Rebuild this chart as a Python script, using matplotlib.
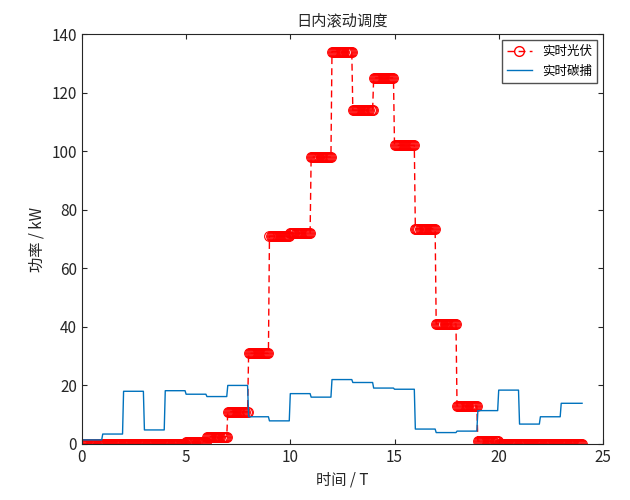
import numpy as np
import matplotlib

matplotlib.use("Agg")
import matplotlib.pyplot as plt

plt.rcParams["font.family"] = ["Noto Sans CJK SC", "DejaVu Sans"]

# hourly values (kW), hours 0..23
pv_hourly = [0, 0, 0, 0, 0, 0.8, 2.5, 11, 31, 71, 72, 98, 134, 114,
             125, 102, 73.5, 41, 13, 1, 0, 0, 0, 0]
cc_hourly = [1.4, 3.4, 18, 4.8, 18.2, 17, 16.2, 20, 9.3, 7.9, 17.2, 16,
             22, 21, 19.1, 18.7, 5.1, 3.9, 4.4, 11.4, 18.4, 6.8, 9.3, 13.9]
steps_per_hour = 20

t = np.arange(len(pv_hourly) * steps_per_hour + 1) / steps_per_hour
pv = np.append(np.repeat(pv_hourly, steps_per_hour), pv_hourly[-1])
cc = np.append(np.repeat(cc_hourly, steps_per_hour), cc_hourly[-1])

grey = "#262626"
fig = plt.figure(figsize=(6.3, 5), dpi=100)
ax = fig.add_axes([0.13, 0.112, 0.827, 0.82])
ax.plot(t, pv, "o", color="red", markersize=7, markerfacecolor="none",
        markeredgewidth=0.8)
ax.plot(t, pv, color="red", lw=1, dashes=(5, 3))
ax.plot([], [], color="red", lw=1, dashes=(5, 3), marker="o", markersize=7,
        markerfacecolor="none", label="实时光伏")
ax.plot(t, cc, "-", color="#0072BD", lw=1, label="实时碳捕")
ax.set_xlim(0, 25)
ax.set_ylim(0, 140)
ax.set_xticks(range(0, 26, 5))
ax.set_yticks(range(0, 141, 20))
ax.tick_params(direction="in", labelsize=11, top=True, right=True,
               colors=grey)
for s in ax.spines.values():
    s.set_color(grey)
ax.set_title("日内滚动调度", fontsize=11, color=grey)
ax.set_xlabel("时间 / T", fontsize=11, color=grey)
ax.set_ylabel("功率 / kW", fontsize=11, color=grey)
ax.legend(loc="upper right", fontsize=9, fancybox=False, edgecolor=grey)
fig.savefig("out.png", dpi=100)
